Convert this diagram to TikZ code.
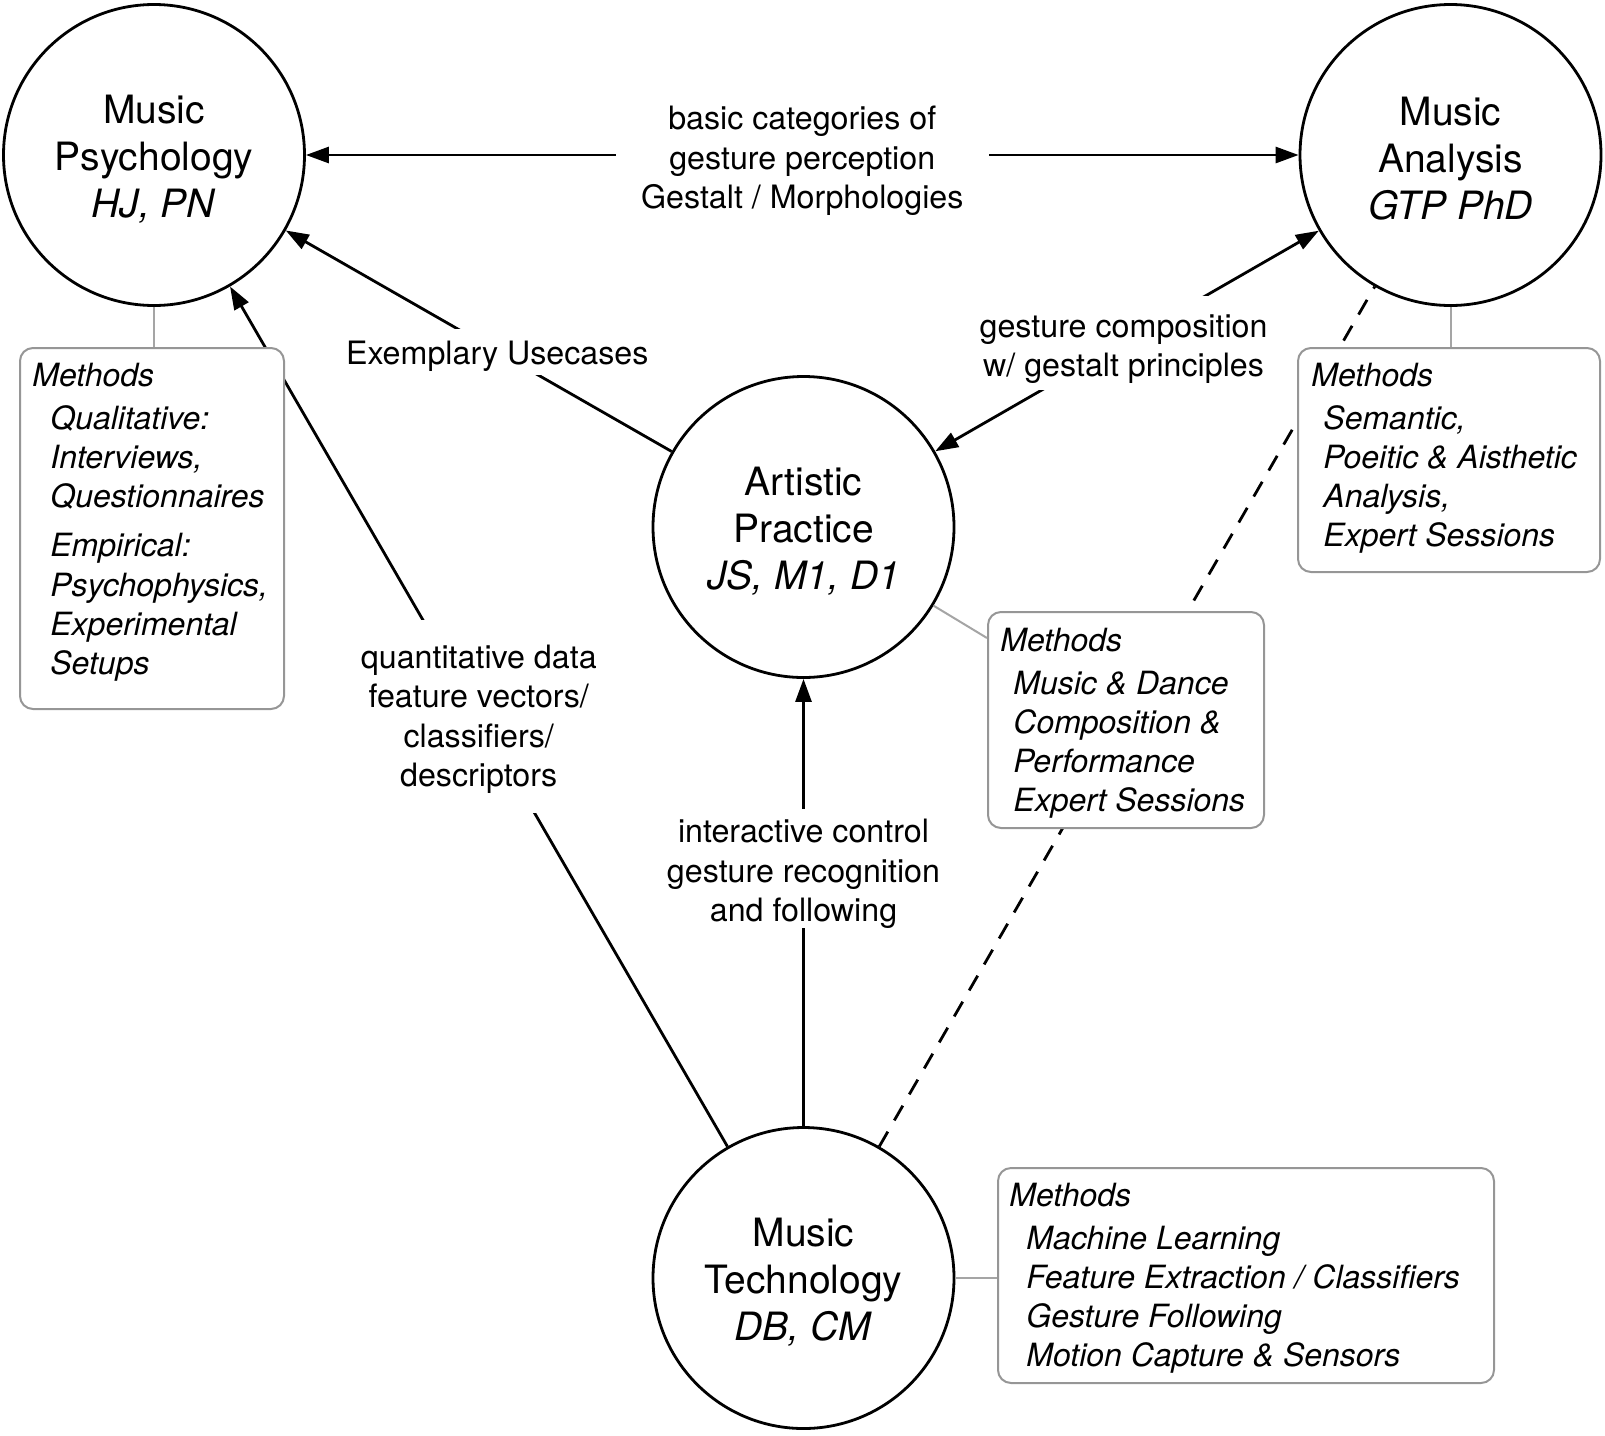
\documentclass[tikz,border=0pt]{standalone}
\usepackage{fontspec}
\setmainfont{TeX Gyre Heros}
\usetikzlibrary{arrows.meta,calc}
\definecolor{boxgray}{RGB}{150,150,150}
\definecolor{linegray}{RGB}{165,165,165}
\newcommand\toprule[1]{\rule{0pt}{#1}}
\begin{document}
\begin{tikzpicture}[x=0.5pt,y=-0.5pt,
  circ/.style={circle, draw, line width=1.4pt, minimum size=150.5pt, inner sep=0pt, align=center, font=\fontsize{19.5pt}{23.5pt}\selectfont},
  lbl/.style={fill=white, align=center, inner xsep=4pt, inner ysep=4pt, font=\fontsize{16.1pt}{19.7pt}\selectfont},
  conn/.style={line width=1.4pt, -{Triangle[length=11.5pt,width=8pt]}},
  connboth/.style={line width=1.4pt, {Triangle[length=11.5pt,width=8pt]}-{Triangle[length=11.5pt,width=8pt]}},
  dashline/.style={line width=1.4pt, dash pattern=on 8.5pt off 6.5pt},
  mbox/.style={draw=boxgray, line width=1pt, rounded corners=6.5pt, fill=white, inner sep=0pt, anchor=north west},
  mtext/.style={align=left, anchor=north west, inner sep=0pt, font=\fontsize{16pt}{19.6pt}\selectfont\itshape},
  gline/.style={draw=linegray, line width=1pt}
]
\useasboundingbox (0,0) rectangle (1605,1435);

% circles
\node[circ] (psy)  at (154,155)    {\toprule{18.5pt}Music\\Psychology\\\textit{HJ, PN}};
\node[circ] (ana)  at (1450.5,155) {\toprule{18pt}Music\\Analysis\\\textit{GTP PhD}};
\node[circ] (art)  at (803.5,527)  {\toprule{18pt}Artistic\\Practice\\\textit{JS, M1, D1}};
\node[circ] (tech) at (803.5,1278) {\toprule{18pt}Music\\Technology\\\textit{DB, CM}};

% connectors with labels
\draw[connboth] (psy) -- (ana)
  node[midway, lbl, inner xsep=12.7pt] (l1) {\toprule{17.6pt}basic categories of\\gesture perception\\Gestalt / Morphologies};
\draw[conn] (art) -- (psy)
  node[pos=0.452, lbl, inner ysep=1.5pt] (l2) {\toprule{16.6pt}Exemplary Usecases};
\draw[conn] (tech) -- (psy)
  node[midway, lbl, inner ysep=9.5pt] (l3) {\toprule{14.6pt}quantitative data\\feature vectors/\\classifiers/\\descriptors};
\draw[conn] (tech) -- (art)
  node[pos=0.575, lbl, inner ysep=0pt] (l4) {\toprule{16.6pt}interactive control\\gesture recognition\\and following};
\draw[connboth] (art) -- (ana)
  node[pos=0.491, lbl, inner ysep=3pt] (l5) {\toprule{17.6pt}gesture composition\\w/ gestalt principles};
\draw[dashline] (tech) -- (ana);

% methods boxes
\node[mbox, minimum width=132pt, minimum height=180.5pt] (bpsy) at (19,347) {};
\node[mbox, minimum width=151pt, minimum height=112pt] (bana) at (1297,347) {};
\node[mbox, minimum width=138pt, minimum height=108pt] (bart) at (987,611) {};
\node[mbox, minimum width=248pt, minimum height=107.5pt] (btech) at (997,1167) {};

\node[mtext] (tpsy) at (32,362.5) {Methods\\[1.9pt]
  \hspace*{9pt}Qualitative:\\\hspace*{9pt}Interviews,\\\hspace*{9pt}Questionnaires\\[5pt]
  \hspace*{9pt}Empirical:\\\hspace*{9pt}Psychophysics,\\\hspace*{9pt}Experimental\\\hspace*{9pt}Setups};
\node[mtext] (tana) at (1311,362.5) {Methods\\[1.9pt]
  \hspace*{6pt}Semantic,\\\hspace*{6pt}Poeitic \& Aisthetic\\\hspace*{6pt}Analysis,\\\hspace*{6pt}Expert Sessions};
\node[mtext] (tart) at (1000,627.5) {Methods\\[1.9pt]
  \hspace*{6.5pt}Music \& Dance\\\hspace*{6.5pt}Composition \&\\\hspace*{6.5pt}Performance\\\hspace*{6.5pt}Expert Sessions};
\node[mtext] (ttech) at (1009,1182.5) {Methods\\[1.9pt]
  \hspace*{8.5pt}Machine Learning\\\hspace*{8.5pt}Feature Extraction / Classifiers\\\hspace*{8.5pt}Gesture Following\\\hspace*{8.5pt}Motion Capture \& Sensors};

% gray attachments
\coordinate (bartin) at ($(bart.north west)+(0,27)$);
\draw[gline] (psy.south) -- (psy.south |- bpsy.north);
\draw[gline] (ana.south) -- (ana.south |- bana.north);
\draw[gline] (art) -- (bartin);
\draw[gline] (tech.east) -- (tech.east -| btech.west);
\end{tikzpicture}
\end{document}
